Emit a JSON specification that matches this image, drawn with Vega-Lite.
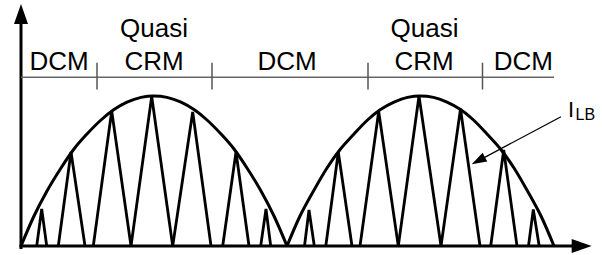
{
  "$schema": "https://vega.github.io/schema/vega-lite/v6.json",
  "width": 602,
  "height": 255,
  "padding": 0,
  "autosize": {"type": "none"},
  "background": "white",
  "config": {"view": {"stroke": null}},
  "datasets": {
    "envelope": [
      {"arch": 1, "t": 0, "h": 0}, {"arch": 1, "t": 13, "h": 30}, {"arch": 1, "t": 26, "h": 55}, {"arch": 1, "t": 40, "h": 78},
      {"arch": 1, "t": 53, "h": 97}, {"arch": 1, "t": 66, "h": 112}, {"arch": 1, "t": 80, "h": 126}, {"arch": 1, "t": 93, "h": 136.4},
      {"arch": 1, "t": 106, "h": 143.8}, {"arch": 1, "t": 120, "h": 148.6}, {"arch": 1, "t": 133, "h": 150}, {"arch": 1, "t": 146, "h": 148.6},
      {"arch": 1, "t": 160, "h": 143.8}, {"arch": 1, "t": 173, "h": 136.4}, {"arch": 1, "t": 186, "h": 126}, {"arch": 1, "t": 200, "h": 112},
      {"arch": 1, "t": 213, "h": 97}, {"arch": 1, "t": 226, "h": 78}, {"arch": 1, "t": 240, "h": 55}, {"arch": 1, "t": 253, "h": 30},
      {"arch": 1, "t": 266, "h": 0},
      {"arch": 2, "t": 266, "h": 0}, {"arch": 2, "t": 279, "h": 30}, {"arch": 2, "t": 292.5, "h": 55}, {"arch": 2, "t": 306, "h": 78},
      {"arch": 2, "t": 319.5, "h": 97}, {"arch": 2, "t": 333, "h": 112}, {"arch": 2, "t": 346.5, "h": 126}, {"arch": 2, "t": 359.5, "h": 136.4},
      {"arch": 2, "t": 373, "h": 143.8}, {"arch": 2, "t": 386.5, "h": 148.6}, {"arch": 2, "t": 399.5, "h": 150}, {"arch": 2, "t": 412.5, "h": 148.6},
      {"arch": 2, "t": 426, "h": 143.8}, {"arch": 2, "t": 439.5, "h": 136.4}, {"arch": 2, "t": 452.5, "h": 126}, {"arch": 2, "t": 466, "h": 112},
      {"arch": 2, "t": 479.5, "h": 97}, {"arch": 2, "t": 493, "h": 78}, {"arch": 2, "t": 506.5, "h": 55}, {"arch": 2, "t": 520, "h": 30},
      {"arch": 2, "t": 533, "h": 0}
    ],
    "triangles": [
      {"id": "a1", "t": 15.7, "h": 0}, {"id": "a1", "t": 20.7, "h": 37}, {"id": "a1", "t": 25.7, "h": 0},
      {"id": "a2", "t": 37.3, "h": 0}, {"id": "a2", "t": 50, "h": 94}, {"id": "a2", "t": 64, "h": 0},
      {"id": "a3", "t": 72.3, "h": 0}, {"id": "a3", "t": 90.7, "h": 135}, {"id": "a3", "t": 110, "h": 0},
      {"id": "a4", "t": 110, "h": 0}, {"id": "a4", "t": 130.7, "h": 149.5}, {"id": "a4", "t": 151.7, "h": 0},
      {"id": "a5", "t": 151.7, "h": 0}, {"id": "a5", "t": 171.7, "h": 134}, {"id": "a5", "t": 190, "h": 0},
      {"id": "a6", "t": 201.7, "h": 0}, {"id": "a6", "t": 215, "h": 94}, {"id": "a6", "t": 228, "h": 0},
      {"id": "a7", "t": 239.7, "h": 0}, {"id": "a7", "t": 245, "h": 37}, {"id": "a7", "t": 249.7, "h": 0},
      {"id": "b1", "t": 283.5, "h": 0}, {"id": "b1", "t": 288, "h": 36}, {"id": "b1", "t": 293.3, "h": 0},
      {"id": "b2", "t": 304.8, "h": 0}, {"id": "b2", "t": 317.3, "h": 94}, {"id": "b2", "t": 331, "h": 0},
      {"id": "b3", "t": 339, "h": 0}, {"id": "b3", "t": 357.7, "h": 134.5}, {"id": "b3", "t": 377.3, "h": 0},
      {"id": "b4", "t": 377.3, "h": 0}, {"id": "b4", "t": 398, "h": 150}, {"id": "b4", "t": 420, "h": 0},
      {"id": "b5", "t": 420, "h": 0}, {"id": "b5", "t": 439.5, "h": 137}, {"id": "b5", "t": 459, "h": 0},
      {"id": "b6", "t": 469.7, "h": 0}, {"id": "b6", "t": 482.7, "h": 96}, {"id": "b6", "t": 496, "h": 0},
      {"id": "b7", "t": 507.5, "h": 0}, {"id": "b7", "t": 512.3, "h": 36.5}, {"id": "b7", "t": 518.2, "h": 0}
    ],
    "segments": [
      {"t": 0, "h": -3, "t2": 0, "h2": 230, "c": "#000000", "w": 3},
      {"t": -1.5, "h": 0, "t2": 560, "h2": 0, "c": "#000000", "w": 3},
      {"t": 0, "h": 168.7, "t2": 533, "h2": 168.7, "c": "#666666", "w": 1.5},
      {"t": 76, "h": 156.5, "t2": 76, "h2": 183.3, "c": "#555555", "w": 1.5},
      {"t": 191, "h": 156.5, "t2": 191, "h2": 183.3, "c": "#555555", "w": 1.5},
      {"t": 347, "h": 156.5, "t2": 347, "h2": 183.3, "c": "#555555", "w": 1.5},
      {"t": 461.5, "h": 156.5, "t2": 461.5, "h2": 183.3, "c": "#555555", "w": 1.5},
      {"t": 540, "h": 129.3, "t2": 459.5, "h2": 86.4, "c": "#000000", "w": 1.3}
    ],
    "heads": [
      {"t": 0, "h": 242, "shape": "M0,0 L-0.35,1 L0.35,1 Z", "size": 1600, "angle": 0},
      {"t": 570.7, "h": 0, "shape": "M0,0 L-1,-0.35 L-1,0.35 Z", "size": 1600, "angle": 0},
      {"t": 450.7, "h": 81.7, "shape": "M0,0 L-1,-0.33 L-1,0.33 Z", "size": 900, "angle": 151.9}
    ],
    "labels": [
      {"t": 38, "h": 176.5, "text": "DCM"},
      {"t": 133, "h": 209, "text": "Quasi"},
      {"t": 133, "h": 176.5, "text": "CRM"},
      {"t": 266, "h": 176.5, "text": "DCM"},
      {"t": 403.5, "h": 209, "text": "Quasi"},
      {"t": 403, "h": 176.5, "text": "CRM"},
      {"t": 502.3, "h": 176.5, "text": "DCM"}
    ],
    "ilbMain": [
      {"t": 547, "h": 129.3, "text": "I"}
    ],
    "ilbSub": [
      {"t": 554.5, "h": 126, "text": "LB"}
    ]
  },
  "encoding": {
    "x": {"field": "t", "type": "quantitative", "scale": {"domain": [-21, 581], "nice": false, "zero": false}, "axis": null},
    "y": {"field": "h", "type": "quantitative", "scale": {"domain": [-9, 246], "nice": false, "zero": false}, "axis": null}
  },
  "layer": [
    {
      "data": {"name": "segments"},
      "mark": {"type": "rule"},
      "encoding": {
        "x2": {"field": "t2"},
        "y2": {"field": "h2"},
        "color": {"field": "c", "type": "nominal", "scale": null},
        "strokeWidth": {"field": "w", "type": "quantitative", "scale": null}
      }
    },
    {
      "data": {"name": "triangles"},
      "mark": {"type": "line", "color": "#000000", "strokeWidth": 2.8, "interpolate": "linear"},
      "encoding": {"detail": {"field": "id", "type": "nominal"}}
    },
    {
      "data": {"name": "envelope"},
      "mark": {"type": "line", "color": "#000000", "strokeWidth": 3, "interpolate": "monotone"},
      "encoding": {"detail": {"field": "arch", "type": "nominal"}}
    },
    {
      "data": {"name": "heads"},
      "mark": {"type": "point", "filled": true, "color": "#000000", "opacity": 1, "strokeWidth": 0},
      "encoding": {
        "shape": {"field": "shape", "type": "nominal", "scale": null},
        "size": {"field": "size", "type": "quantitative", "scale": null},
        "angle": {"field": "angle", "type": "quantitative", "scale": null}
      }
    },
    {
      "data": {"name": "labels"},
      "mark": {"type": "text", "font": "Liberation Sans", "fontSize": 26, "align": "center", "baseline": "alphabetic", "color": "#000000"},
      "encoding": {"text": {"field": "text", "type": "nominal"}}
    },
    {
      "data": {"name": "ilbMain"},
      "mark": {"type": "text", "font": "Liberation Sans", "fontSize": 22, "align": "left", "baseline": "alphabetic", "color": "#000000"},
      "encoding": {"text": {"field": "text", "type": "nominal"}}
    },
    {
      "data": {"name": "ilbSub"},
      "mark": {"type": "text", "font": "Liberation Sans", "fontSize": 16, "align": "left", "baseline": "alphabetic", "color": "#000000"},
      "encoding": {"text": {"field": "text", "type": "nominal"}}
    }
  ]
}
